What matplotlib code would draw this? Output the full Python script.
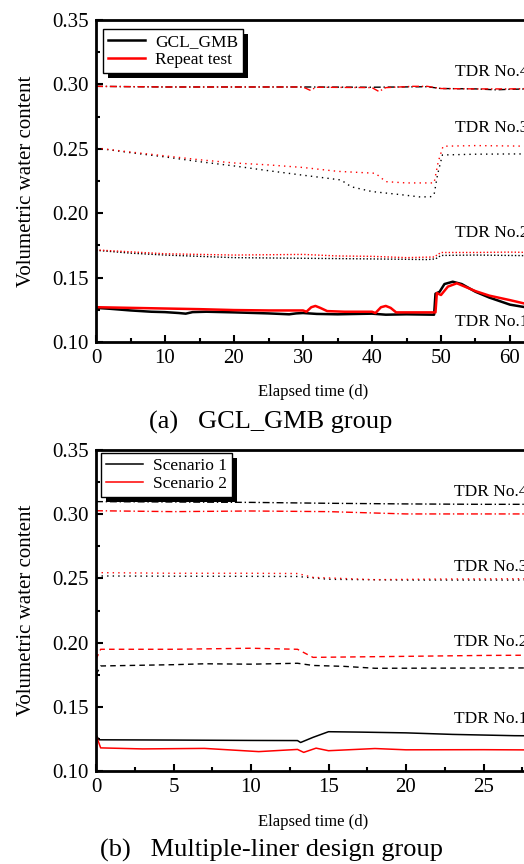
import matplotlib
matplotlib.use("Agg")
import matplotlib.pyplot as plt
from matplotlib.patches import Rectangle
from matplotlib.ticker import MultipleLocator

plt.rcParams['font.family'] = ['Liberation Serif', 'DejaVu Serif']

# (a) GCL_GMB group
a_t1_gcl = [0, 2, 5, 8, 10, 12, 13, 14, 16, 20, 25, 28, 29, 30, 32, 35, 40, 42, 45, 49,
            49.2, 49.8, 50.5, 51.7, 53, 55, 57, 60, 62, 63]
a_v1_gcl = [.1265, .1258, .1245, .1235, .1232, .1225, .122, .1232, .1235, .123, .1222, .1215,
            .1222, .1225, .1218, .1215, .122, .1212, .1215, .1212,
            .1375, .139, .145, .1468, .145, .139, .1345, .129, .1272, .127]
a_t1_rep = [0, 0.2, 5, 10, 15, 20, 25, 30, 30.5, 31.2, 31.8, 32.5, 33.5, 36, 40, 40.5, 41.3,
            42, 42.7, 43.5, 46, 49.2, 49.4, 50.0, 51, 52.3, 55, 57, 60, 62, 63]
a_v1_rep = [.1275, .127, .1265, .126, .1255, .1248, .1245, .1245, .1235, .127, .128, .1265,
            .124, .1235, .1235, .1225, .127, .128, .1265, .123, .123, .123, .138, .1365,
            .143, .1456, .1395, .136, .1325, .130, .129]

a_t2_gcl = [0, 5, 10, 15, 20, 30, 40, 45, 48, 49.2, 50, 55, 60, 63]
a_v2_gcl = [.1712, .169, .1675, .1665, .1655, .165, .1645, .1642, .164, .1645, .1672, .1675, .1672, .167]
a_t2_rep = [0, 5, 10, 20, 30, 35, 40, 45, 49, 50, 55, 60, 63]
a_v2_rep = [.1715, .170, .1685, .1675, .168, .1668, .1665, .1655, .166, .1695, .1695, .1698, .1695]

a_t3_gcl = [0, 5, 10, 15, 20, 25, 30, 33, 35.5, 37, 40, 44, 47, 48.5, 49, 49.5, 50.2, 55, 60, 63]
a_v3_gcl = [.2506, .247, .2437, .240, .2367, .233, .2295, .2275, .2258, .2205, .2168, .2145,
            .2126, .2128, .2145, .23, .2452, .2458, .246, .246]
a_t3_rep = [0, 5, 10, 15, 20, 25, 30, 35, 40.5, 42, 45, 49, 49.6, 50.3, 55, 60, 63]
a_v3_rep = [.2506, .2475, .2445, .2415, .239, .2375, .2355, .2325, .231, .2245, .2235, .2235,
            .24, .252, .2525, .2522, .252]

a_t4_gcl = [0, 10, 20, 30, 40, 48, 50, 55, 58, 60, 63]
a_v4_gcl = [.2985, .298, .298, .298, .2978, .2982, .2968, .2965, .2958, .2962, .2965]
a_t4_rep = [0, 10, 20, 30, 31, 32, 40, 41, 42, 46, 48, 50, 55, 60, 63]
a_v4_rep = [.2985, .298, .298, .298, .2955, .2978, .2975, .2945, .2975, .2985, .2985, .2968,
            .2965, .2965, .2968]

# (b) Multiple-liner design group
b_t1_s1 = [0, 0.2, 5, 10, 13, 13.2, 14, 15, 17, 20, 23, 27, 30]
b_v1_s1 = [.128, .1243, .1241, .1238, .1237, .1222, .1262, .1306, .1303, .1297, .1285, .1275, .1273]
b_t1_s2 = [0, 0.3, 3, 7, 10.5, 13, 13.4, 14.2, 15, 18, 20, 25, 30]
b_v1_s2 = [.128, .118, .1172, .1176, .1151, .1168, .1145, .1178, .1158, .1175, .1165, .1166, .1163]

b_t2_s1 = [0, 0.3, 5, 7, 10, 13, 14, 16, 18, 25, 30]
b_v2_s1 = [.175, .1818, .1828, .1835, .1832, .1839, .1822, .1815, .180, .1802, .1803]
b_t2_s2 = [0, 0.3, 5, 10, 13, 14, 20, 25, 30]
b_v2_s2 = [.187, .1948, .1948, .1956, .1948, .1885, .1893, .190, .1903]

b_t3_s1 = [0, 5, 10, 13, 15, 20, 25, 30]
b_v3_s1 = [.2519, .2517, .2516, .2515, .2493, .2487, .2487, .2487]
b_t3_s2 = [0, 5, 10, 13, 14, 18, 22, 27, 30]
b_v3_s2 = [.2545, .254, .254, .2538, .2508, .249, .2495, .2497, .2497]

b_t4_s1 = [0, 5, 10, 15, 20, 25, 30]
b_v4_s1 = [.3098, .3095, .3092, .3085, .308, .3077, .3077]
b_t4_s2 = [0, 5, 10, 15, 20, 25, 30]
b_v4_s2 = [.3027, .302, .3025, .302, .3002, .3002, .3002]

tdr_names = ['TDR No.1', 'TDR No.2', 'TDR No.3', 'TDR No.4']

W, H = 524, 864
fig = plt.figure(figsize=(W / 100, H / 100), dpi=100)


def px_axes(left, top, right, bottom):
    return fig.add_axes([left / W, 1 - bottom / H, (right - left) / W, (bottom - top) / H])


def style(ax, xmax, xmaj, xmin):
    ax.set_xlim(0, xmax)
    ax.set_ylim(0.10, 0.35)
    ax.xaxis.set_major_locator(MultipleLocator(xmaj))
    ax.xaxis.set_minor_locator(MultipleLocator(xmin))
    ax.yaxis.set_major_locator(MultipleLocator(0.05))
    ax.yaxis.set_minor_locator(MultipleLocator(0.025))
    ax.yaxis.set_major_formatter(lambda v, p: f'{v:.2f}')
    ax.tick_params(which='both', direction='in', top=False, right=False,
                   labelsize=15, width=1.5)
    ax.tick_params(which='major', length=5, pad=5)
    ax.tick_params(which='minor', length=3)
    for s in ax.spines.values():
        s.set_linewidth(2)


def legend_with_shadow(ax, anchor):
    leg = ax.legend(loc='upper left', bbox_to_anchor=anchor, borderaxespad=0,
                    fancybox=False, edgecolor='k', framealpha=1, fontsize=12.5,
                    handlelength=2.1, handletextpad=0.6, labelspacing=0.1,
                    borderpad=0.3)
    leg.get_frame().set_linewidth(1)
    leg.set_zorder(6)
    return leg


# panel (a)
ax1 = px_axes(96, 20, 579, 342)
ax1.plot(a_t4_gcl, a_v4_gcl, color='k', lw=1, ls=(0, (5, 2, 1, 2)))
ax1.plot(a_t4_rep, a_v4_rep, color='red', lw=1, ls=(0, (5, 2, 1, 2)))
ax1.plot(a_t3_gcl, a_v3_gcl, color='k', lw=1, ls=(0, (1, 3)))
ax1.plot(a_t3_rep, a_v3_rep, color='red', lw=1, ls=(0, (1, 3)))
ax1.plot(a_t2_gcl, a_v2_gcl, color='k', lw=1, ls=(0, (1, 1.5)))
ax1.plot(a_t2_rep, a_v2_rep, color='red', lw=1, ls=(0, (1, 1.5)))
ax1.plot(a_t1_gcl, a_v1_gcl, color='k', lw=1.8, label='GCL_GMB')
ax1.plot(a_t1_rep, a_v1_rep, color='red', lw=1.8, label='Repeat test')
style(ax1, 70, 10, 5)
ax1.set_ylabel('Volumetric water content', fontsize=15, labelpad=12)
for name, y in zip(tdr_names, [0.1155, 0.1846, 0.266, 0.3096]):
    ax1.text(52, y, name, fontsize=12.5, va='center', ha='left')
leg1 = legend_with_shadow(ax1, (7 / 483, 1 - 9 / 322))
fig.text(313 / W, 1 - 392 / H, 'Elapsed time (d)', fontsize=12, ha='center', va='center')
fig.text(271 / W, 1 - 422 / H, '(a)   GCL_GMB group', fontsize=19, ha='center', va='center')

# panel (b)
ax2 = px_axes(96, 450, 561, 771)
ax2.plot(b_t4_s1, b_v4_s1, color='k', lw=1, ls=(0, (5, 2, 1, 2)))
ax2.plot(b_t4_s2, b_v4_s2, color='red', lw=1, ls=(0, (5, 2, 1, 2)))
ax2.plot(b_t3_s1, b_v3_s1, color='k', lw=1, ls=(0, (1, 3)))
ax2.plot(b_t3_s2, b_v3_s2, color='red', lw=1, ls=(0, (1, 3)))
ax2.plot(b_t2_s1, b_v2_s1, color='k', lw=1, ls=(0, (4, 3)))
ax2.plot(b_t2_s2, b_v2_s2, color='red', lw=1, ls=(0, (4, 3)))
ax2.plot(b_t1_s1, b_v1_s1, color='k', lw=1.1, label='Scenario 1')
ax2.plot(b_t1_s2, b_v1_s2, color='red', lw=1.1, label='Scenario 2')
style(ax2, 30, 5, 2.5)
ax2.set_ylabel('Volumetric water content', fontsize=15, labelpad=12)
for name, y in zip(tdr_names, [0.1403, 0.2007, 0.2586, 0.3175]):
    ax2.text(23.1, y, name, fontsize=12.5, va='center', ha='left')
leg2 = legend_with_shadow(ax2, (5 / 465, 1 - 3 / 321))
fig.text(313 / W, 1 - 822 / H, 'Elapsed time (d)', fontsize=12, ha='center', va='center')
fig.text(271 / W, 1 - 850 / H, '(b)   Multiple-liner design group', fontsize=19,
         ha='center', va='center')

# black offset shadow behind each legend
fig.canvas.draw()
for ax, leg in [(ax1, leg1), (ax2, leg2)]:
    bb = leg.get_window_extent()
    ax.add_patch(Rectangle((bb.x0 + 5, bb.y0 - 5), bb.width, bb.height, transform=None,
                           facecolor='k', edgecolor='none', zorder=5, clip_on=False))

fig.savefig('out.png', dpi=100)
